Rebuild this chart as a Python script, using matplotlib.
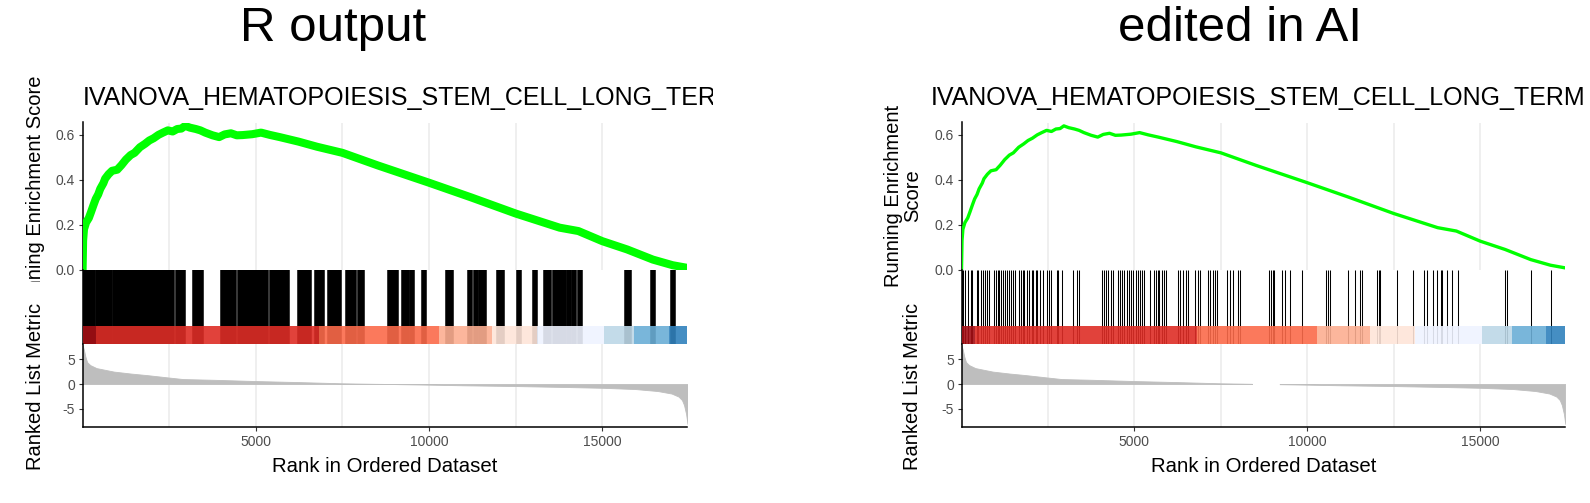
import numpy as np
import matplotlib
matplotlib.use("Agg")
import matplotlib.pyplot as plt
from matplotlib.transforms import Bbox

plt.rcParams['font.family'] = ['Liberation Sans', 'DejaVu Sans']
plt.rcParams['axes.unicode_minus'] = False

W, H = 1590, 503

# data
n_genes = 17460
gene_set = "IVANOVA_HEMATOPOIESIS_STEM_CELL_LONG_TERM"
panel_titles = ["R output", "edited in AI"]

hit_ranks = [14, 52, 101, 197, 266, 313, 440, 486, 556, 614, 680, 747, 805,
             949, 998, 1048, 1094, 1143, 1192, 1259, 1308, 1375, 1424, 1499,
             1548, 1664, 1713, 1771, 1817, 1887, 1945, 2032, 2078, 2147, 2194,
             2272, 2367, 2466, 2532, 2581, 2755, 2801, 2900, 3235, 3334, 3409,
             4057, 4124, 4182, 4248, 4318, 4376, 4538, 4587, 4654, 4711, 4781,
             4847, 4905, 4972, 5041, 5117, 5166, 5215, 5282, 5455, 5580, 5629,
             5678, 5724, 5794, 5852, 5910, 6274, 6332, 6419, 6488, 6546, 6758,
             6836, 6902, 7142, 7200, 7270, 7336, 7394, 7675, 7750, 7837, 7993,
             8060, 8879, 8957, 9006, 9044, 9267, 9362, 9507, 9845, 10540, 10598,
             10644, 11177, 11368, 11512, 11582, 12016, 12062, 12111, 12595,
             13046, 13364, 13463, 13636, 13752, 13868, 13906, 14042, 14186,
             14360, 15709, 15778, 16473, 17051]

es_rank = [0, 15, 40, 100, 180, 240, 320, 380, 450, 510, 600, 650, 750, 850,
           1000, 1120, 1250, 1385, 1500, 1655, 1800, 1925, 2050, 2190, 2320,
           2460, 2600, 2730, 2850, 2960, 3100, 3270, 3400, 3540, 3750, 3940,
           4100, 4280, 4450, 4615, 4900, 5150, 5400, 5690, 6230, 6770, 7500,
           8520, 10000, 11210, 12500, 13770, 14310, 15000, 15720, 16460,
           17030, 17460]
es_score = [0.0, 0.13, 0.18, 0.21, 0.23, 0.255, 0.29, 0.315, 0.335, 0.36,
            0.385, 0.405, 0.425, 0.44, 0.445, 0.465, 0.49, 0.51, 0.52, 0.545,
            0.56, 0.575, 0.585, 0.60, 0.61, 0.62, 0.615, 0.626, 0.628, 0.64,
            0.632, 0.626, 0.62, 0.61, 0.598, 0.59, 0.602, 0.607, 0.598, 0.599,
            0.603, 0.61, 0.60, 0.59, 0.57, 0.547, 0.52, 0.464, 0.387, 0.322,
            0.25, 0.187, 0.172, 0.127, 0.09, 0.045, 0.02, 0.008]

metric_rank = [0, 40, 80, 130, 220, 400, 900, 1400, 1850, 2500, 2900, 3800,
               5000, 6200, 7500, 8400, 8900, 9200, 10000, 11000, 12500, 14000,
               15000, 15950, 16600, 17000, 17200, 17300, 17360, 17420, 17460]
metric_value = [7.8, 6.8, 5.5, 4.4, 3.8, 3.2, 2.5, 2.1, 1.8, 1.3, 1.0, 0.85,
                0.6, 0.4, 0.15, 0.05, 0.01, -0.03, -0.12, -0.25, -0.4, -0.6,
                -0.75, -1.0, -1.4, -1.9, -2.5, -3.2, -4.2, -6.0, -8.0]

band_start = [0, 390, 6810, 10280, 11822, 13125, 15054, 15922, 16916]
band_end = [390, 6810, 10280, 11822, 13125, 15054, 15922, 16916, 17460]
band_colors = ['#A50F15', '#DE2D26', '#FB6A4A', '#FCAE91', '#FEE5D9',
               '#EFF3FF', '#BDD7E7', '#6BAED6', '#3182BD']

grid_x = [2500, 5000, 7500, 10000, 12500, 15000]

# pixel layout (shared rows)
ES_TOP, ES_BOT = 122.5, 269.7
HIT_BOT = 343.5
RANK_BOT = 427.3
BAND_FRAC = (HIT_BOT - 325.7) / (HIT_BOT - ES_BOT)

TICK_COL = '#4D4D4D'


def px_axes(fig, left, top, right, bottom):
    return fig.add_axes([left / W, 1 - bottom / H, (right - left) / W, (bottom - top) / H])


def fy(y):
    return 1 - y / H


def style_axis(ax, left=True, bottom=False):
    for side in ['top', 'right']:
        ax.spines[side].set_visible(False)
    ax.spines['left'].set_visible(left)
    ax.spines['bottom'].set_visible(bottom)
    for side in ['left', 'bottom']:
        ax.spines[side].set_linewidth(1.1)
        ax.spines[side].set_color('black')
    ax.tick_params(axis='both', length=3, width=0.8, color='#333333',
                   labelcolor=TICK_COL, labelsize=10, pad=2.5)
    ax.set_xlim(0, n_genes)


def draw_panel(fig, x0, x1, thick, gap=None):
    es = px_axes(fig, x0, ES_TOP, x1, ES_BOT)
    style_axis(es)
    for g in grid_x:
        es.axvline(g, color='#EBEBEB', lw=1.1, zorder=0)
    es.plot(es_rank, es_score, color='#00FF00', lw=5.8 if thick else 2.4,
            solid_joinstyle='round', zorder=3)
    es.set_ylim(0, 0.655)
    es.set_yticks([0, 0.2, 0.4, 0.6], ['0.0', '0.2', '0.4', '0.6'])
    es.set_xticks([])

    hits = px_axes(fig, x0, ES_BOT, x1, HIT_BOT)
    style_axis(hits)
    hits.vlines(hit_ranks, 0, 1, color='black', lw=4.0 if thick else 0.75)
    # colour band drawn over the hit lines, like gseaplot2 (alpha .9)
    for s, e, c in zip(band_start, band_end, band_colors):
        hits.bar(s, BAND_FRAC, width=e - s, bottom=0, align='edge', color=c,
                 alpha=0.9, linewidth=0, zorder=3)
    hits.set_ylim(0, 1)
    hits.set_xticks([])
    hits.set_yticks([])

    rk = px_axes(fig, x0, HIT_BOT, x1, RANK_BOT)
    style_axis(rk, bottom=True)
    for g in grid_x:
        rk.axvline(g, color='#EBEBEB', lw=1.1, zorder=0)
    r = np.array(metric_rank)
    v = np.array(metric_value)
    if gap is None:
        rk.fill_between(r, 0, v, color='#BEBEBE', lw=0.6, edgecolor='#BEBEBE')
    else:
        m1 = r <= gap[0]
        m2 = r >= gap[1]
        rk.fill_between(r[m1], 0, v[m1], color='#BEBEBE', lw=0.6, edgecolor='#BEBEBE')
        rk.fill_between(r[m2], 0, v[m2], color='#BEBEBE', lw=0.6, edgecolor='#BEBEBE')
    rk.set_ylim(-8.67, 8.13)
    rk.set_yticks([-5, 0, 5], ['-5', '0', '5'])
    rk.set_xticks([5000, 10000, 15000], ['5000', '10000', '15000'])

    fig.text((x0 + x1) / 2 / W, fy(466.5), 'Rank in Ordered Dataset',
             ha='center', va='center', fontsize=14.7)
    return es


fig = plt.figure(figsize=(W / 100, H / 100), dpi=100)

# left: R output
draw_panel(fig, 82.6, 687.5, thick=True)
fig.text(332.6 / W, fy(28.4), panel_titles[0], ha='center', va='center', fontsize=35.5)
t = fig.text(82.6 / W, fy(105), gene_set, ha='left', va='baseline', fontsize=18.0)
t.set_clip_box(Bbox([[0, 0], [713, H]]))
t.set_clip_on(True)
yl = fig.text(36 / W, fy(195.5), 'Running Enrichment Score', rotation=90,
              ha='center', va='center', fontsize=14.5)
yl.set_clip_box(Bbox([[0, H - 282], [W, H]]))
yl.set_clip_on(True)
fig.text(36 / W, fy(386), 'Ranked List Metric', rotation=90,
         ha='center', va='center', fontsize=14.5)

# right: edited in AI
draw_panel(fig, 961.5, 1565.3, thick=False, gap=(8420, 9160))
fig.text(1240 / W, fy(28.4), panel_titles[1], ha='center', va='center', fontsize=35.5)
fig.text(930.3 / W, fy(105), gene_set, ha='left', va='baseline', fontsize=18.0)
fig.text(903 / W, fy(196.1), 'Running Enrichment\nScore', rotation=90,
         ha='center', va='center', fontsize=14.5, multialignment='center',
         linespacing=1.0)
fig.text(912 / W, fy(386), 'Ranked List Metric', rotation=90,
         ha='center', va='center', fontsize=14.5)

fig.savefig('out.png', dpi=100)
